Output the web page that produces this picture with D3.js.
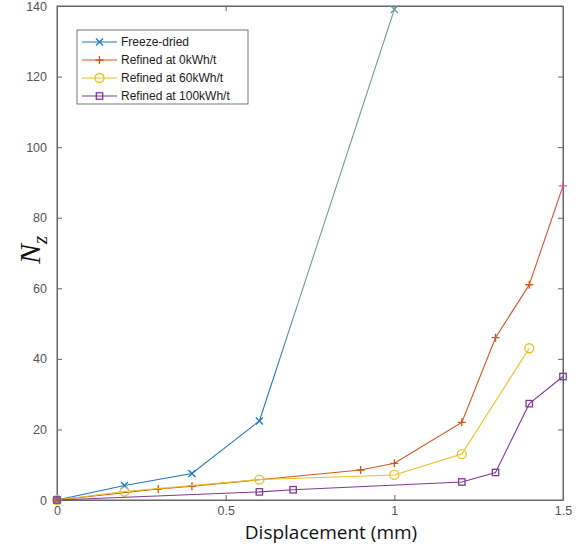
<!DOCTYPE html>
<html><head><meta charset="utf-8">
<script src="https://cdn.jsdelivr.net/npm/d3@7"></script>
<style>html,body{margin:0;padding:0;background:#fff;}svg{display:block;}</style>
</head><body>
<svg id="chart" width="584" height="545"></svg>
<script>
// ---- data ----
const seriesNames = ["Freeze-dried", "Refined at 0kWh/t", "Refined at 60kWh/t", "Refined at 100kWh/t"];
const freezeX = [0, 0.2, 0.4, 0.6, 1.0];
const freezeY = [0, 4.1, 7.5, 22.4, 139];
const r0X = [0, 0.3, 0.4, 0.9, 1.0, 1.2, 1.3, 1.4, 1.5];
const r0Y = [0, 3.1, 3.9, 8.5, 10.4, 22, 46, 61, 89];
const r60X = [0, 0.2, 0.6, 1.0, 1.2, 1.4];
const r60Y = [0, 2.4, 5.8, 7.1, 13, 43];
const r100X = [0, 0.6, 0.7, 1.2, 1.3, 1.4, 1.5];
const r100Y = [0, 2.3, 2.9, 5.1, 7.8, 27.3, 35];
const xTicks = [0, 0.5, 1, 1.5];
const xTickLabels = ["0", "0.5", "1", "1.5"];
const yTicks = [0, 20, 40, 60, 80, 100, 120, 140];
const yTickLabels = ["0", "20", "40", "60", "80", "100", "120", "140"];

const seriesX = [freezeX, r0X, r60X, r100X];
const seriesY = [freezeY, r0Y, r60Y, r100Y];
const colorsLow = ["#1f77c4", "#d95319", "#e8c21c", "#7e3a96"];
const colorsHigh = ["#6f9fa0", "#e0507a", "#f0c030", "#6a4aa0"];
const markers = ["x", "plus", "circle", "square"];

const svg = d3.select("#chart");
const L = 57, R = 563, T = 6, B = 500;
const x = d3.scaleLinear().domain([0, 1.5]).range([L, R]);
const y = d3.scaleLinear().domain([0, 140]).range([B, T]);

const defs = svg.append("defs");
seriesNames.forEach((n, i) => {
  const g = defs.append("linearGradient").attr("id", "g" + i)
    .attr("gradientUnits", "userSpaceOnUse")
    .attr("x1", 0).attr("x2", 0).attr("y1", B).attr("y2", T);
  g.append("stop").attr("offset", "0%").attr("stop-color", colorsLow[i]);
  g.append("stop").attr("offset", i === 0 ? "25%" : "45%").attr("stop-color", colorsLow[i]);
  g.append("stop").attr("offset", i === 0 ? "40%" : "70%").attr("stop-color", colorsHigh[i]);
  g.append("stop").attr("offset", "100%").attr("stop-color", colorsHigh[i]);
});

const axisColor = "#666";
svg.append("rect").attr("x", L).attr("y", T).attr("width", R - L).attr("height", B - T)
  .attr("fill", "none").attr("stroke", axisColor).attr("stroke-width", 1);

const xAxisB = d3.axisBottom(x).tickValues(xTicks).tickFormat((d, i) => xTickLabels[i]).tickSizeInner(-5).tickSizeOuter(0).tickPadding(6);
const gx = svg.append("g").attr("transform", `translate(0,${B})`).call(xAxisB);
const xAxisT = d3.axisTop(x).tickValues(xTicks).tickFormat("").tickSizeInner(-5).tickSizeOuter(0);
const gxt = svg.append("g").attr("transform", `translate(0,${T})`).call(xAxisT);
const yAxisL = d3.axisLeft(y).tickValues(yTicks).tickFormat((d, i) => yTickLabels[i]).tickSizeInner(-5).tickSizeOuter(0).tickPadding(10);
const gy = svg.append("g").attr("transform", `translate(${L},0)`).call(yAxisL);
const yAxisR = d3.axisRight(y).tickValues(yTicks).tickFormat("").tickSizeInner(-5).tickSizeOuter(0);
const gyr = svg.append("g").attr("transform", `translate(${R},0)`).call(yAxisR);
[gx, gxt, gy, gyr].forEach(g => {
  g.select(".domain").attr("stroke", axisColor);
  g.selectAll(".tick line").attr("stroke", axisColor);
  g.selectAll(".tick text").attr("fill", "#555").style("font-family", "Liberation Sans, Arial, sans-serif").style("font-size", "12.5px");
});

const line = d3.line().x(d => x(d[0])).y(d => y(d[1]));
function drawMarker(g, type, cx, cy, col) {
  const s = 3.5;
  if (type === "x") {
    g.append("path").attr("d", `M${cx-s},${cy-s}L${cx+s},${cy+s}M${cx-s},${cy+s}L${cx+s},${cy-s}`).attr("stroke", col).attr("stroke-width", 1.3).attr("fill", "none");
  } else if (type === "plus") {
    g.append("path").attr("d", `M${cx-s-0.5},${cy}L${cx+s+0.5},${cy}M${cx},${cy-s-0.5}L${cx},${cy+s+0.5}`).attr("stroke", col).attr("stroke-width", 1.3).attr("fill", "none");
  } else if (type === "circle") {
    g.append("circle").attr("cx", cx).attr("cy", cy).attr("r", 4.5).attr("stroke", col).attr("stroke-width", 1.3).attr("fill", "none");
  } else {
    g.append("rect").attr("x", cx - 3.2).attr("y", cy - 3.2).attr("width", 6.4).attr("height", 6.4).attr("stroke", col).attr("stroke-width", 1.3).attr("fill", "none");
  }
}
seriesNames.forEach((n, i) => {
  const pts = seriesX[i].map((v, j) => [v, seriesY[i][j]]);
  const g = svg.append("g");
  g.append("path").datum(pts).attr("d", line).attr("fill", "none")
    .attr("stroke", `url(#g${i})`).attr("stroke-width", 1.1);
  pts.forEach(p => {
    const yy = y(p[1]);
    const col = yy < (i === 0 ? B - 0.3 * (B - T) : B - 0.5 * (B - T)) ? colorsHigh[i] : colorsLow[i];
    drawMarker(g, markers[i], x(p[0]), yy, col);
  });
});

const lg = svg.append("g");
lg.append("rect").attr("x", 77).attr("y", 30).attr("width", 171).attr("height", 74)
  .attr("fill", "#fff").attr("stroke", "#555").attr("stroke-width", 0.8);
seriesNames.forEach((n, i) => {
  const ly = 42 + i * 18;
  lg.append("line").attr("x1", 82).attr("x2", 117).attr("y1", ly).attr("y2", ly).attr("stroke", colorsLow[i]).attr("stroke-width", 1);
  drawMarker(lg, markers[i], 99.5, ly, colorsLow[i]);
  lg.append("text").attr("x", 121).attr("y", ly + 4.3).text(n)
    .style("font-family", "Liberation Sans, Arial, sans-serif").style("font-size", "12px").attr("fill", "#222");
});

svg.append("text").attr("x", 331).attr("y", 538.5).attr("text-anchor", "middle")
  .style("font-family", "Open Sans, sans-serif").style("font-size", "19px").attr("fill", "#111")
  .text("Displacement (mm)");
const yl = svg.append("text").attr("transform", "translate(40,250) rotate(-90)").attr("text-anchor", "middle")
  .style("font-family", "Liberation Serif, serif").style("font-style", "italic").style("font-size", "30px").attr("fill", "#111");
yl.append("tspan").text("N");
yl.append("tspan").attr("dy", 7).style("font-size", "21px").text("z");
</script>
</body></html>
